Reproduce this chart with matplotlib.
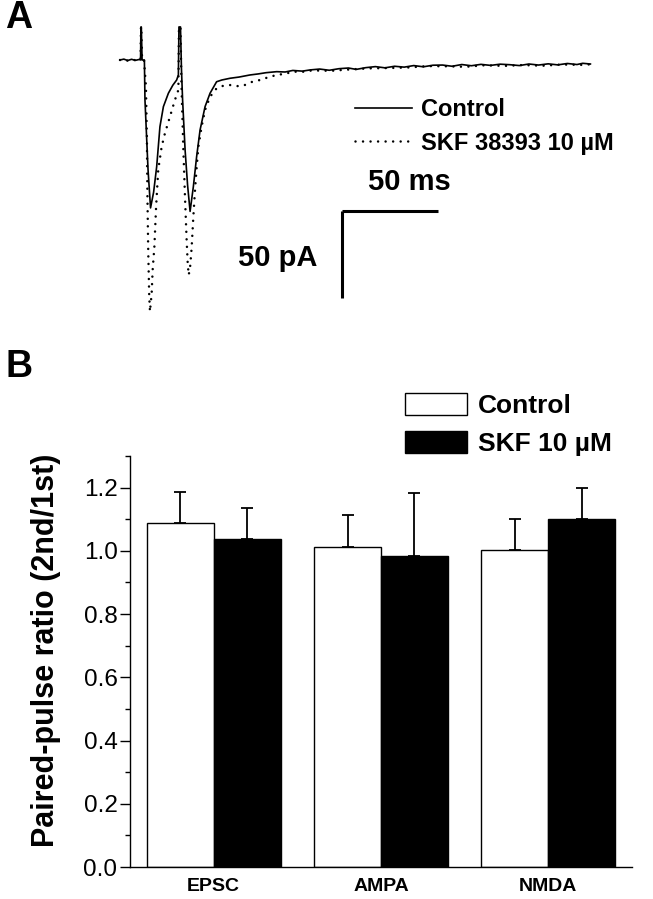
import numpy as np
import matplotlib
matplotlib.use("Agg")
import matplotlib.pyplot as plt
from matplotlib.ticker import MultipleLocator

plt.rcParams['font.family'] = ['Liberation Sans', 'DejaVu Sans']

# ---- panel A: paired-pulse traces (time in ms, current in pA) ----
t_ctrl = [0, 2, 4, 6, 8, 10, 10.7, 10.9, 11.1, 11.5, 12.7, 13.0, 14.6, 15.9, 17.5,
          19.1, 20.8, 22.6, 25.2, 27.5, 29.5, 30.4, 30.7, 31.5, 32.0, 32.6, 33.9,
          35.2, 36.5, 38.2, 39.9, 41.7, 44.3, 46.9, 50.3, 53, 57.3, 62, 67.7, 72,
          76, 81.6, 86, 90, 95, 99, 104, 109, 114, 119, 123, 128, 133, 138, 143,
          148, 153, 158, 163, 168, 173, 178, 183, 188, 193, 198, 203, 208, 213,
          218, 223, 228, 233, 238, 241, 245]
i_ctrl = [0, 0.5, -0.3, 0.4, -0.2, 0.3, 0, 19, 19, 0, 0, -23, -63, -85, -76,
          -61.3, -38.3, -26.8, -19.1, -14.5, -11.5, -8.6, 19, 19, -5, -23, -51.7,
          -72, -87, -72.8, -55.6, -40.2, -26.8, -19.1, -12.5, -11.5, -10.5, -9.8,
          -8.6, -8.0, -7.3, -6.7, -6.9, -6.0, -6.4, -5.7, -5.2, -5.9, -5.0, -4.6,
          -5.4, -4.4, -3.8, -4.5, -3.6, -4.1, -3.2, -3.9, -3.0, -2.9, -3.6, -2.6,
          -3.3, -2.5, -3.1, -2.4, -2.7, -3.2, -2.3, -2.9, -2.2, -2.8, -2.0, -2.6,
          -1.9, -2.3]

t_skf = [0, 2, 4, 6, 8, 10, 10.7, 10.9, 11.1, 11.5, 12.5, 13.5, 14.0, 14.3, 14.7,
         15.2, 15.6, 16.5, 17.0, 17.9, 18.8, 19.9, 21.7, 23.4, 26.0, 28.6, 30.4,
         30.7, 31.5, 32.0, 33.0, 33.9, 34.7, 35.3, 35.8, 36.6, 37.3, 38.2, 39.1,
         39.9, 40.8, 42.5, 44.3, 46.9, 50.3, 53, 57.3, 61, 64.2, 68, 72.9, 77,
         81.6, 86, 90.3, 95, 100, 110, 120, 130, 140, 150, 160, 170, 180, 190,
         200, 210, 220, 230, 240, 245]
i_skf = [0, 0.3, -0.4, 0.2, -0.1, 0.2, 0, 19, 19, 0, 0, -15, -45, -80, -110,
         -135, -144.6, -134, -120.7, -107.3, -84.3, -63.2, -49.8, -42.1, -32.6,
         -23, -17.2, 19, 19, -14, -51.7, -80.5, -103.4, -117.8, -123.6, -118,
         -108, -90, -74, -62, -50, -38.3, -28.7, -21.1, -16.3, -15.0, -14.4,
         -15.0, -14.8, -12.8, -11.5, -10.0, -8.6, -7.9, -6.7, -6.8, -6.0, -6.2,
         -5.4, -4.8, -4.6, -4.3, -3.5, -3.6, -3.9, -3.0, -3.4, -2.9, -3.3, -2.6,
         -2.8, -2.5]

# ---- panel B: paired-pulse ratio ----
groups = ['EPSC', 'AMPA', 'NMDA']
ppr_ctrl = [1.087, 1.011, 1.002]
ppr_skf = [1.036, 0.983, 1.100]
sem_ctrl = [0.098, 0.101, 0.098]
sem_skf = [0.098, 0.199, 0.100]

W, H = 653, 899
fig = plt.figure(figsize=(W / 100, H / 100), dpi=100)

# panel A
axA = fig.add_axes([100 / W, 1 - 330 / H, 540 / W, 310 / H])
axA.plot(t_ctrl, i_ctrl, color='black', lw=1.2, label='Control')
axA.plot(t_skf, i_skf, color='black', lw=1.8, linestyle=(0, (0.01, 3.0)),
         dash_capstyle='round', label='SKF 38393 10 \u00b5M')
axA.set_xlim(-10.42, 270.83)
axA.set_ylim(-155.17, 22.99)
axA.axis('off')

# scale bars: 50 ms and 50 pA
sb_t, sb_i = 115.6, -86.8
axA.plot([sb_t, sb_t + 50], [sb_i, sb_i], color='black', lw=2.2, solid_capstyle='butt')
axA.plot([sb_t, sb_t], [sb_i, sb_i - 50], color='black', lw=2.2, solid_capstyle='butt')
axA.text(sb_t + 35, sb_i + 16.5, '50 ms', ha='center', va='center',
         fontsize=21, fontweight='bold')
axA.text(sb_t - 13, sb_i - 27, '50 pA', ha='right', va='center',
         fontsize=21, fontweight='bold')

axA.legend(loc='upper left', bbox_to_anchor=(355 / W, 1 - 98 / H),
           bbox_transform=fig.transFigure, frameon=False,
           prop={'size': 17, 'weight': 'bold'}, handlelength=2.4,
           handletextpad=0.4, labelspacing=0.45, borderpad=0, borderaxespad=0)

# panel B
axB = fig.add_axes([130 / W, 1 - 867 / H, 502 / W, 411 / H])
x = np.arange(len(groups))
bw = 0.4
axB.bar(x - bw / 2, ppr_ctrl, bw, color='white', edgecolor='black', lw=1.0,
        yerr=[np.zeros(3), sem_ctrl], capsize=4.5,
        error_kw={'elinewidth': 1.3, 'capthick': 1.3}, label='Control')
axB.bar(x + bw / 2, ppr_skf, bw, color='black', edgecolor='black', lw=1.0,
        yerr=[np.zeros(3), sem_skf], capsize=4.5,
        error_kw={'elinewidth': 1.3, 'capthick': 1.3}, label='SKF 10 \u00b5M')
axB.set_xlim(-0.5, 2.5)
axB.set_ylim(0, 1.3)
axB.yaxis.set_minor_locator(MultipleLocator(0.1))
axB.set_yticks(np.arange(0, 1.21, 0.2))
axB.set_yticklabels([f'{v:.1f}' for v in np.arange(0, 1.21, 0.2)])
axB.set_xticks(x)
axB.set_xticklabels(groups, fontsize=14, fontweight='bold')
axB.spines['top'].set_visible(False)
axB.spines['right'].set_visible(False)
axB.spines['left'].set_linewidth(1.0)
axB.spines['bottom'].set_linewidth(1.0)
axB.tick_params(axis='y', which='major', length=7, width=1.0, labelsize=17.5, pad=2)
axB.tick_params(axis='y', which='minor', length=3.5, width=1.0)
axB.tick_params(axis='x', length=0, pad=8)
axB.set_ylabel('Paired-pulse ratio (2nd/1st)', fontsize=22, fontweight='bold')
axB.yaxis.set_label_coords(-0.138, 0.528)

axB.legend(loc='upper left', bbox_to_anchor=(405 / W, 1 - 393 / H),
           bbox_transform=fig.transFigure, frameon=False,
           prop={'size': 19, 'weight': 'bold'}, handlelength=2.35,
           handleheight=0.9, handletextpad=0.4, labelspacing=0.5,
           borderpad=0, borderaxespad=0)

fig.text(5 / W, 1 - 18 / H, 'A', fontsize=27, fontweight='bold', va='center')
fig.text(5 / W, 1 - 367 / H, 'B', fontsize=27, fontweight='bold', va='center')

fig.savefig('out.png', dpi=100)
